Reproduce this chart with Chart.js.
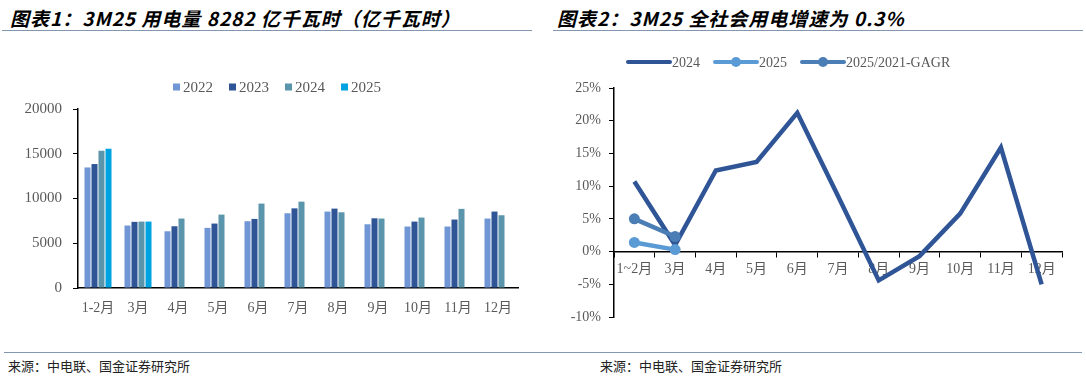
<!DOCTYPE html>
<html>
<head>
<meta charset="utf-8">
<script src="https://cdn.jsdelivr.net/npm/chart.js@4.4.1/dist/chart.umd.min.js"></script>
<style>
  body { margin: 0; background: #fff; width: 1086px; height: 376px; position: relative; overflow: hidden; }
  .title { position: absolute; top: 4px; font: italic bold 19px "Noto Sans CJK SC", sans-serif; letter-spacing: 1px; color: #000; white-space: nowrap; }
  .rule { position: absolute; height: 1px; background: #8497b0; }
  .src { position: absolute; top: 356px; font: 13px "Noto Sans CJK SC", sans-serif; color: #222; white-space: nowrap; }
  canvas { position: absolute; }
</style>
</head>
<body>
<div class="title" style="left:10px">图表1：3M25 用电量 8282 亿千瓦时（亿千瓦时）</div>
<div class="title" style="left:557px">图表2：3M25 全社会用电增速为 0.3%</div>
<div class="rule" style="left:2px; top:30px; width:530px"></div>
<div class="rule" style="left:553px; top:30px; width:530px"></div>
<div class="rule" style="left:4px; top:352px; width:1078px"></div>
<div class="src" style="left:8px">来源：中电联、国金证券研究所</div>
<div class="src" style="left:600px">来源：中电联、国金证券研究所</div>

<canvas id="left" width="540" height="300" style="left:0; top:40px"></canvas>
<canvas id="right" width="541" height="300" style="left:545px; top:40px"></canvas>

<script>
// chart 1 - monthly consumption (亿千瓦时)
const months = ['1-2月', '3月', '4月', '5月', '6月', '7月', '8月', '9月', '10月', '11月', '12月'];
const y2022 = [13470, 6980, 6340, 6720, 7460, 8350, 8540, 7120, 6870, 6870, 7760];
const y2023 = [13850, 7390, 6900, 7200, 7720, 8900, 8870, 7790, 7420, 7650, 8540];
const y2024 = [15330, 7420, 7760, 8200, 9430, 9650, 8460, 7760, 7870, 8840, 8130];
const y2025 = [15550, 7420, null, null, null, null, null, null, null, null, null];
const barLabels = ['2022', '2023', '2024', '2025'];
const barColors = ['#7096d6', '#2f5597', '#5b95ab', '#00a3e0'];

// chart 2 - growth rate (%)
const months2 = ['1~2月', '3月', '4月', '5月', '6月', '7月', '8月', '9月', '10月', '11月', '12月'];
const g2024 = [10.7, 1.0, 12.4, 13.7, 21.2, 8.5, -4.4, -0.7, 5.8, 15.9, -5.0];
const g2025 = [1.4, 0.3];
const gCagr = [5.0, 2.3];
const lineLabels = ['2024', '2025', '2025/2021-GAGR'];
const lineColors = ['#2f5597', '#5b9bd5', '#4a7eb5'];

const serif = "'Liberation Serif', 'Noto Sans CJK SC', serif";
const grey = '#595959';

// legend with little squares, centred at x=277
const squareLegend = {
    id: 'squareLegend',
    afterDraw(chart) {
        const ctx = chart.ctx;
        ctx.save();
        ctx.font = '15px ' + serif;
        ctx.textBaseline = 'middle';
        const widths = barLabels.map(t => ctx.measureText(t).width);
        const total = widths.reduce((a, w) => a + 7 + 3 + w, 0) + 16 * (barLabels.length - 1);
        let x = 277 - total / 2;
        const y = 47;
        barLabels.forEach((t, i) => {
            ctx.fillStyle = barColors[i];
            ctx.fillRect(x, y - 3.5, 7, 7);
            ctx.fillStyle = grey;
            ctx.fillText(t, x + 10, y + 1);
            x += 10 + widths[i] + 16;
        });
        ctx.restore();
    }
};

// legend with line samples (and dots for the marker series)
const lineLegend = {
    id: 'lineLegend',
    afterDraw(chart) {
        const ctx = chart.ctx;
        ctx.save();
        ctx.font = '14px ' + serif;
        ctx.textBaseline = 'middle';
        let x = 83;
        const y = 22;
        lineLabels.forEach((t, i) => {
            ctx.strokeStyle = lineColors[i];
            ctx.lineWidth = 4;
            ctx.lineCap = 'round';
            ctx.beginPath();
            ctx.moveTo(x, y);
            ctx.lineTo(x + 42, y);
            ctx.stroke();
            if (i > 0) {
                ctx.fillStyle = lineColors[i];
                ctx.beginPath();
                ctx.arc(x + 21, y, 5, 0, Math.PI * 2);
                ctx.fill();
            }
            ctx.fillStyle = grey;
            ctx.fillText(t, x + 44, y + 1);
            x += 44 + ctx.measureText(t).width + 15;
        });
        ctx.restore();
    }
};

new Chart(document.getElementById('left'), {
    type: 'bar',
    data: {
        labels: months,
        datasets: [y2022, y2023, y2024, y2025].map((d, i) => ({
            label: barLabels[i],
            data: d,
            backgroundColor: barColors[i],
            categoryPercentage: 0.7,
            barPercentage: 0.86
        }))
    },
    options: {
        responsive: false,
        animation: false,
        layout: { padding: { top: 69, right: 22, left: 0, bottom: 0 } },
        plugins: { legend: { display: false }, tooltip: { enabled: false } },
        scales: {
            x: {
                grid: { display: false, drawTicks: false },
                border: { color: '#000', width: 1.5 },
                ticks: { color: grey, font: { family: serif, size: 14 }, padding: 12, maxRotation: 0 },
                afterFit(s) { s.height = 52; }
            },
            y: {
                min: 0, max: 20000,
                grid: { drawOnChartArea: false, drawTicks: true, tickLength: 5, color: '#000', tickColor: '#000' },
                border: { color: '#000', width: 1.5 },
                ticks: { stepSize: 5000, color: grey, font: { family: serif, size: 15 }, padding: 11, callback: v => String(v) },
                afterFit(s) { s.width = 78; }
            }
        }
    },
    plugins: [squareLegend]
});

new Chart(document.getElementById('right'), {
    type: 'line',
    data: {
        labels: months2,
        datasets: [
            { label: lineLabels[0], data: g2024, borderColor: lineColors[0], borderWidth: 4.5, pointRadius: 0, order: 3 },
            { label: lineLabels[1], data: g2025, borderColor: lineColors[1], backgroundColor: lineColors[1], borderWidth: 4.5, pointRadius: 5.5, pointBorderWidth: 0, order: 2 },
            { label: lineLabels[2], data: gCagr, borderColor: lineColors[2], backgroundColor: lineColors[2], borderWidth: 4.5, pointRadius: 5.5, pointBorderWidth: 0, order: 1 }
        ]
    },
    options: {
        responsive: false,
        animation: false,
        layout: { padding: { top: 48, right: 24, left: 0, bottom: 23 } },
        plugins: { legend: { display: false }, tooltip: { enabled: false } },
        scales: {
            x: {
                position: { y: 0 },
                offset: true,
                grid: { offset: true, drawOnChartArea: false, drawTicks: true, tickLength: 5, color: '#000', tickColor: '#000' },
                border: { color: '#000', width: 1.5 },
                ticks: { color: grey, font: { family: serif, size: 14 }, padding: 4, maxRotation: 0 }
            },
            y: {
                position: 'left',
                min: -10, max: 25,
                grid: { drawOnChartArea: false, drawTicks: true, tickLength: 5, color: '#000', tickColor: '#000' },
                border: { color: '#000', width: 1.5 },
                ticks: { stepSize: 5, color: grey, font: { family: serif, size: 14 }, padding: 8, callback: v => v + '%' },
                afterFit(s) { s.width = 69; }
            }
        }
    },
    plugins: [lineLegend]
});
</script>
</body>
</html>
